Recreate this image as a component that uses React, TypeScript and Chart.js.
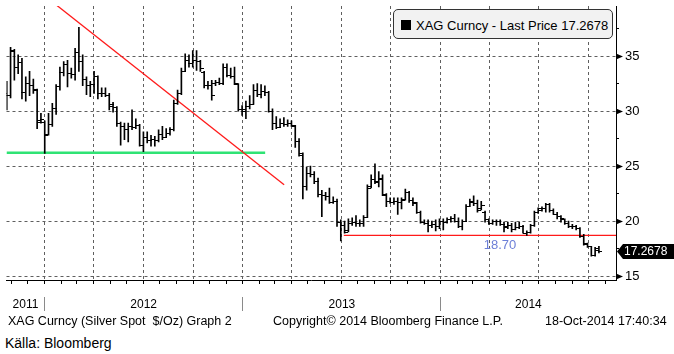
import React, { useEffect, useRef } from "react";
import { Chart, registerables } from "chart.js";

Chart.register(...registerables);

// ---------------- data ----------------
const FIRST_WEEK_END = "2011-10-21"; // Friday of first weekly bar
const opens = [
  31.6, 31.4, 35.4, 34.0, 34.4, 31.7, 32.5, 32.3, 31.9, 29.1, 29.0, 27.9, 28.8, 30.2, 32.2, 33.5, 34.2, 33.4, 33.3, 35.3,
  34.5, 32.9, 32.3, 32.4, 33.1, 31.6, 31.6, 31.4, 30.6, 30.3, 28.9, 28.6, 28.3, 28.6, 28.5, 28.7, 26.9, 27.6, 27.3, 27.4,
  27.3, 27.9, 27.6, 28.0, 28.3, 30.7, 31.6, 33.6, 34.6, 34.3, 34.6, 34.5, 33.5, 32.3, 32.3, 32.5, 32.6, 32.5, 34.0, 33.2,
  33.1, 32.4, 30.1, 30.1, 30.4, 30.6, 31.9, 31.5, 31.8, 31.7, 30.0, 28.9, 28.5, 28.9, 28.8, 28.9, 28.6, 27.2, 26.0, 23.1,
  24.3, 24.2, 23.6, 22.4, 22.3, 22.2, 21.7, 21.8, 19.9, 19.6, 19.1, 19.8, 19.9, 19.8, 19.8, 20.3, 23.1, 23.8, 23.5, 23.8,
  22.3, 21.8, 21.7, 21.8, 21.7, 22.0, 22.6, 21.9, 21.6, 20.8, 19.9, 19.8, 19.6, 19.7, 19.5, 20.0, 19.9, 20.1, 20.2, 20.0,
  19.5, 20.0, 21.3, 21.7, 21.6, 21.1, 20.8, 20.1, 19.8, 20.0, 20.0, 19.7, 19.5, 19.6, 19.2, 19.4, 19.5, 18.9, 19.0, 19.6,
  20.8, 21.0, 21.1, 21.5, 21.0, 20.6, 20.4, 20.1, 19.8, 19.5, 19.5, 19.3, 18.6, 18.0, 17.7, 16.9, 17.3,
];
const highs = [
  32.7, 35.8, 35.6, 35.1, 34.8, 33.1, 33.6, 32.9, 32.0, 29.8, 29.1, 29.8, 30.7, 32.4, 34.0, 34.5, 34.6, 33.9, 35.7, 37.6,
  35.1, 33.1, 32.7, 33.6, 33.2, 32.1, 32.1, 31.6, 30.8, 30.4, 29.0, 28.9, 28.9, 30.1, 29.3, 28.8, 28.1, 28.1, 27.8, 27.7,
  28.3, 28.6, 28.4, 28.5, 31.0, 31.9, 33.9, 35.2, 35.1, 35.5, 35.5, 34.6, 33.6, 32.7, 32.8, 32.8, 33.0, 34.3, 34.3, 33.9,
  34.0, 32.5, 30.5, 30.9, 31.4, 32.4, 32.5, 32.4, 32.3, 31.8, 30.2, 29.5, 29.3, 29.4, 29.2, 29.1, 28.7, 27.5, 26.2, 24.9,
  25.0, 24.5, 23.9, 22.8, 22.6, 23.0, 22.2, 22.0, 20.1, 20.0, 20.2, 20.3, 20.5, 20.1, 20.5, 23.3, 24.2, 25.2, 24.5, 24.2,
  22.5, 22.1, 22.1, 22.1, 22.1, 22.9, 22.7, 22.1, 21.7, 20.9, 20.1, 20.1, 20.0, 20.1, 20.2, 20.2, 20.3, 20.4, 20.6, 20.3,
  20.1, 21.5, 22.0, 22.3, 21.9, 21.8, 20.9, 20.2, 20.1, 20.1, 20.1, 19.9, 19.9, 19.8, 19.9, 19.9, 19.6, 19.1, 19.7, 20.9,
  21.2, 21.3, 21.6, 21.6, 21.1, 20.8, 20.5, 20.2, 20.0, 19.7, 19.6, 19.4, 18.8, 18.0, 17.7, 17.6, 17.7,
];
const lows = [
  30.1, 31.2, 32.8, 33.4, 31.1, 30.9, 31.4, 31.6, 28.4, 28.9, 26.15, 27.8, 28.6, 29.7, 31.9, 33.2, 32.2, 33.0, 32.8, 33.6,
  32.3, 31.5, 31.3, 31.6, 31.1, 31.3, 31.3, 30.1, 29.9, 28.6, 26.9, 27.4, 27.2, 28.3, 28.4, 26.8, 26.3, 27.1, 26.8, 26.8,
  27.2, 27.4, 27.6, 27.8, 28.2, 30.6, 31.5, 33.6, 34.0, 34.0, 33.7, 33.6, 32.1, 32.0, 31.0, 32.3, 32.4, 32.4, 33.1, 33.0,
  32.4, 30.0, 29.6, 29.3, 30.2, 30.6, 31.3, 31.2, 31.4, 29.9, 28.3, 28.4, 28.5, 28.6, 28.6, 28.6, 26.7, 25.9, 22.0, 22.8,
  24.0, 23.4, 22.2, 20.4, 21.9, 21.6, 21.6, 19.5, 18.2, 18.9, 19.0, 19.6, 19.5, 19.5, 19.5, 20.3, 23.0, 23.4, 23.1, 22.3,
  21.3, 21.6, 21.5, 20.6, 21.1, 21.9, 21.7, 21.4, 20.7, 19.8, 19.7, 19.0, 19.4, 19.1, 19.3, 19.2, 19.8, 19.9, 19.9, 19.4,
  19.2, 20.0, 21.3, 21.4, 20.8, 21.0, 19.9, 19.7, 19.7, 19.6, 19.6, 19.0, 19.3, 19.0, 19.2, 19.3, 18.9, 18.7, 18.9, 19.5,
  20.7, 20.9, 20.8, 20.8, 20.6, 20.2, 19.9, 19.7, 19.4, 19.3, 19.2, 18.5, 17.8, 17.6, 16.8, 16.8, 17.1,
];
const closes = [
  31.4, 35.5, 34.0, 34.4, 31.7, 32.5, 32.3, 32.0, 29.0, 29.2, 27.8, 28.8, 30.2, 32.2, 33.5, 34.2, 33.4, 33.3, 35.3, 34.5,
  32.9, 32.3, 32.4, 33.1, 31.6, 31.6, 31.4, 30.4, 30.3, 28.9, 28.6, 28.3, 28.6, 28.5, 28.7, 26.9, 27.6, 27.3, 27.4, 27.3,
  27.9, 27.6, 28.0, 28.3, 30.7, 31.6, 33.6, 34.6, 34.3, 34.6, 34.5, 33.9, 32.3, 32.3, 31.4, 32.6, 32.5, 34.0, 33.2, 33.1,
  32.5, 30.1, 30.0, 30.4, 30.6, 31.9, 31.5, 31.8, 31.7, 30.0, 28.9, 28.5, 28.9, 28.8, 28.9, 28.7, 27.2, 26.1, 23.1, 24.3,
  24.2, 23.6, 22.4, 22.3, 22.2, 21.7, 21.8, 19.9, 19.6, 19.0, 19.8, 19.9, 19.8, 19.8, 20.3, 23.0, 23.8, 23.6, 23.9, 22.4,
  21.8, 21.7, 21.8, 21.7, 21.9, 22.6, 21.9, 21.7, 20.8, 19.9, 19.8, 19.6, 19.7, 19.5, 20.0, 19.9, 20.1, 20.2, 20.0, 19.5,
  20.0, 21.3, 21.8, 21.6, 21.0, 21.4, 20.1, 19.8, 20.0, 20.0, 19.7, 19.4, 19.6, 19.2, 19.4, 19.5, 18.9, 19.0, 19.6, 20.8,
  21.1, 21.1, 21.5, 21.0, 20.6, 20.4, 20.2, 19.8, 19.5, 19.5, 19.3, 18.6, 17.9, 17.7, 16.9, 17.5, 17.2678,
];

const axisStartDate = "2011-10-23";
const axisEndDate = "2014-11-20";
const yMin = 14.64;
const yMax = 39.55;
const yMajorTicks = [15, 20, 25, 30, 35];
const yMinorTicks = [17.5, 22.5, 27.5, 32.5, 37.5];
const yearLabels = ["2011", "2012", "2013", "2014"];

// drawn lines
const trendDates = ["2012-01-24", "2013-03-18"];
const trendValues = [39.6, 23.3];
const greenDates = ["2011-10-23", "2013-02-11"];
const greenValue = 26.2;
const supportDates = ["2013-07-06", "2014-11-20"];
const supportValue = 18.7;
const supportLabel = "18.70";
const supportLabelDate = "2014-04-20";

const legendText = "XAG Curncy - Last Price 17.2678";
const lastPriceText = "17.2678";
const footerTitle = "XAG Curncy (Silver Spot  $/Oz) Graph 2";
const footerCopyright = "Copyright\u00a9 2014 Bloomberg Finance L.P.";
const footerStamp = "18-Oct-2014 17:40:34";
const sourceText = "Källa: Bloomberg";

// ---------------- helpers ----------------
const FONT = "'Liberation Sans', Arial, sans-serif";
const GRID = "#5f5f5f";
const EPOCH = Date.UTC(2012, 0, 1);
const dayOf = (iso: string) => {
  const [y, m, d] = iso.split("-").map(Number);
  return (Date.UTC(y, m - 1, d) - EPOCH) / 86400000;
};
const BAR_SHIFT = 2.5; // weekly bar drawn at the weekend after the Friday close

const xMin = dayOf(axisStartDate);
const xMax = dayOf(axisEndDate);
const weekDays = opens.map((_, i) => dayOf(FIRST_WEEK_END) + 7 * i + BAR_SHIFT);

const monthTicks: number[] = [];
const quarterTicks = new Set<number>();
for (let y = 2011; y <= 2014; y++) {
  for (let m = 1; m <= 12; m++) {
    const v = dayOf(`${y}-${String(m).padStart(2, "0")}-01`);
    if (v >= xMin && v <= xMax) {
      monthTicks.push(v);
      if ((m - 1) % 3 === 0) quarterTicks.add(v);
    }
  }
}
const yearBounds = [dayOf("2012-01-01"), dayOf("2013-01-01"), dayOf("2014-01-01")];
const yearCenters = [
  (xMin + yearBounds[0]) / 2,
  (yearBounds[0] + yearBounds[1]) / 2,
  (yearBounds[1] + yearBounds[2]) / 2,
  (yearBounds[2] + xMax) / 2,
];
const yearTickValues = [...yearBounds, ...yearCenters].sort((a, b) => a - b);
const yearLabelMap = new Map<number, string>();
yearCenters.forEach((v, i) => yearLabelMap.set(v, yearLabels[i]));
const yearBoundSet = new Set(yearBounds);

function tickImage(side: "left" | "right") {
  const c = document.createElement("canvas");
  c.width = 7;
  c.height = 1;
  const g = c.getContext("2d")!;
  g.fillStyle = "#000";
  g.fillRect(side === "left" ? 0 : 3, 0, 4, 1);
  return c;
}

export default function App() {
  const ref = useRef<HTMLCanvasElement>(null);

  useEffect(() => {
    const openImg = tickImage("left");
    const closeImg = tickImage("right");

    const overlay = {
      id: "overlay",
      beforeDatasetsDraw(chart: any) {
        chart.ctx.imageSmoothingEnabled = false;
      },
      afterDatasetsDraw(chart: any) {
        chart.ctx.imageSmoothingEnabled = true;
      },
      afterDraw(chart: any) {
        const { ctx } = chart;
        const x = chart.scales.x;
        const y = chart.scales.y;
        const ax = Math.round(y.left);
        ctx.save();
        // triangle markers on major ticks
        ctx.fillStyle = "#000";
        for (const v of yMajorTicks) {
          const py = Math.round(y.getPixelForValue(v)) + 0.5;
          ctx.beginPath();
          ctx.moveTo(ax, py - 3);
          ctx.lineTo(ax + 7, py);
          ctx.lineTo(ax, py + 3);
          ctx.closePath();
          ctx.fill();
        }
        // support label
        ctx.fillStyle = "#6c7fd8";
        ctx.font = `13px ${FONT}`;
        ctx.textAlign = "center";
        ctx.textBaseline = "top";
        ctx.fillText(supportLabel, x.getPixelForValue(dayOf(supportLabelDate)), y.getPixelForValue(supportValue) + 4);
        // last price tag
        const last = closes[closes.length - 1];
        const py = Math.round(y.getPixelForValue(last)) + 0.5;
        ctx.fillStyle = "#000";
        ctx.beginPath();
        ctx.moveTo(ax + 1, py);
        ctx.lineTo(ax + 7, py - 7.5);
        ctx.lineTo(chart.width, py - 7.5);
        ctx.lineTo(chart.width, py + 7.5);
        ctx.lineTo(ax + 7, py + 7.5);
        ctx.closePath();
        ctx.fill();
        ctx.fillStyle = "#fff";
        ctx.font = `12px ${FONT}`;
        ctx.textAlign = "left";
        ctx.textBaseline = "middle";
        ctx.fillText(lastPriceText, ax + 8, py + 0.5);
        ctx.restore();
      },
    };

    const lineDs = (dates: string[], values: number[], color: string, width: number) => ({
      type: "line",
      data: dates.map((d, i) => ({ x: dayOf(d), y: values[i] })),
      borderColor: color,
      borderWidth: width,
      pointRadius: 0,
      fill: false,
      xAxisID: "x",
      yAxisID: "y",
    });

    const chart = new Chart(ref.current!, {
      type: "bar",
      data: {
        datasets: [
          {
            type: "line",
            data: weekDays.map((d, i) => ({ x: d, y: opens[i] })),
            showLine: false,
            pointStyle: openImg,
            pointRadius: 3,
            pointHoverRadius: 3,
            xAxisID: "x",
            yAxisID: "y",
          },
          {
            type: "line",
            data: weekDays.map((d, i) => ({ x: d, y: closes[i] })),
            showLine: false,
            pointStyle: closeImg,
            pointRadius: 3,
            pointHoverRadius: 3,
            xAxisID: "x",
            yAxisID: "y",
          },
          {
            type: "bar",
            data: weekDays.map((d, i) => ({ x: d, y: [lows[i], highs[i]] })),
            backgroundColor: "#000",
            barThickness: 1,
            grouped: false,
            xAxisID: "x",
            yAxisID: "y",
          },
          lineDs(trendDates, trendValues, "#ff1a1a", 1.3),
          lineDs(supportDates, [supportValue, supportValue], "#ff1a1a", 1.3),
          lineDs(greenDates, [greenValue, greenValue], "#2fe374", 2.5),
        ] as any,
      },
      options: {
        responsive: false,
        animation: false,
        devicePixelRatio: 1,
        events: [],
        layout: { padding: { left: 6.5, top: 6, right: 0, bottom: 0 } },
        plugins: { legend: { display: false }, tooltip: { enabled: false }, title: { display: false } },
        scales: {
          x: {
            type: "linear",
            axis: "x",
            position: "bottom",
            weight: 0,
            min: xMin,
            max: xMax,
            offset: false,
            afterBuildTicks: (s: any) => {
              s.ticks = monthTicks.map((v) => ({ value: v }));
            },
            grid: {
              offset: false,
              color: (c: any) => (c.tick && quarterTicks.has(c.tick.value) ? GRID : "rgba(0,0,0,0)"),
              lineWidth: 1,
              tickColor: "#000",
              tickLength: 4,
            },
            border: { display: true, color: "#000", width: 1, dash: [3, 3] },
            ticks: { display: false },
            afterFit: (s: any) => {
              s.height = 17;
              s.paddingLeft = 0;
              s.paddingRight = 0;
            },
          },
          years: {
            type: "linear",
            axis: "x",
            position: "bottom",
            weight: 1,
            min: xMin,
            max: xMax,
            offset: false,
            afterBuildTicks: (s: any) => {
              s.ticks = yearTickValues.map((v) => ({ value: v }));
            },
            grid: {
              offset: false,
              drawOnChartArea: false,
              tickLength: 14,
              tickColor: (c: any) => (c.tick && yearBoundSet.has(c.tick.value) ? "#8a8a8a" : "rgba(0,0,0,0)"),
            },
            border: { display: false },
            ticks: {
              autoSkip: false,
              maxRotation: 0,
              padding: -14,
              color: "#000",
              font: { family: FONT, size: 12 },
              callback: (v: any) => yearLabelMap.get(v) ?? "",
            },
            afterFit: (s: any) => {
              s.height = 20;
              s.paddingLeft = 0;
              s.paddingRight = 0;
            },
          },
          y: {
            type: "linear",
            position: "right",
            min: yMin,
            max: yMax,
            afterBuildTicks: (s: any) => {
              s.ticks = [...yMajorTicks, ...yMinorTicks].sort((a, b) => a - b).map((v) => ({ value: v }));
            },
            grid: {
              color: (c: any) => (c.tick && c.tick.value % 5 === 0 ? GRID : "rgba(0,0,0,0)"),
              lineWidth: 1,
              tickLength: 3,
              tickColor: (c: any) => (c.tick && c.tick.value % 5 !== 0 ? "#000" : "rgba(0,0,0,0)"),
            },
            border: { display: true, color: "#000", width: 1, dash: [3, 3] },
            ticks: {
              padding: 6,
              color: "#000",
              font: { family: FONT, size: 13 },
              callback: (v: any) => (v % 5 === 0 ? String(v) : ""),
            },
            afterFit: (s: any) => {
              s.width = 58;
              s.paddingTop = 0;
              s.paddingBottom = 0;
            },
          },
        },
      } as any,
      plugins: [overlay],
    });
    return () => chart.destroy();
  }, []);

  const text = (left: number, top: number, size: number, s: string, extra: any = {}) => (
    <div
      style={{
        position: "absolute",
        left,
        top,
        fontSize: size,
        lineHeight: "15px",
        whiteSpace: "pre",
        color: "#000",
        fontFamily: FONT,
        ...extra,
      }}
    >
      {s}
    </div>
  );

  return (
    <div
      style={{
        position: "absolute",
        left: 0,
        top: 0,
        width: 674,
        height: 354,
        background: "#fff",
        overflow: "hidden",
        fontFamily: FONT,
      }}
    >
      <canvas ref={ref} width={674} height={317} style={{ position: "absolute", left: 0, top: 0, width: 674, height: 317 }} />
      <div
        style={{
          position: "absolute",
          left: 393,
          top: 9,
          width: 218,
          height: 28,
          border: "1px solid #333",
          borderRadius: 5,
          background: "#f2f2f2",
        }}
      />
      <div style={{ position: "absolute", left: 401, top: 19.5, width: 10, height: 10, background: "#000" }} />
      {text(416, 18, 13, legendText)}
      {text(8, 314, 12.5, footerTitle)}
      {text(273, 314, 12.5, footerCopyright)}
      {text(545, 314, 12.5, footerStamp)}
      {text(5, 335, 14, sourceText, { fontFamily: "'Liberation Sans Narrow', " + FONT, lineHeight: "16px" })}
    </div>
  );
}
